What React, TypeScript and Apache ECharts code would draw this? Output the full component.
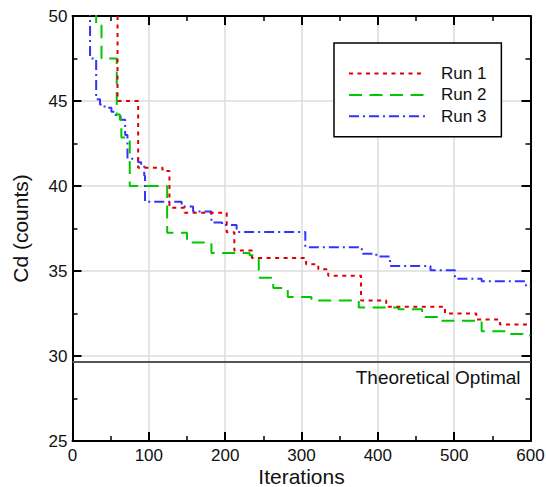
import React, { useEffect, useRef } from "react";
import * as echarts from "echarts";

const xTicks = [0, 100, 200, 300, 400, 500, 600];
const yTicks = [25, 30, 35, 40, 45, 50];

const seriesNames = ["Run 1", "Run 2", "Run 3"];

const run1X = [59, 59, 86, 118, 127, 147, 202, 212, 235, 306, 322, 335, 378, 411, 488, 529, 560, 600];
const run1Y = [60, 45.0, 41.08, 40.88, 38.72, 38.42, 37.28, 36.2, 35.77, 35.4, 35.1, 34.72, 33.27, 32.9, 32.5, 32.15, 31.85, 31.85];

const run2X = [31, 31, 38, 58, 62, 64, 75, 124, 150, 182, 232, 244, 263, 282, 313, 375, 427, 458, 481, 536, 572, 590, 600];
const run2Y = [60, 49.45, 47.5, 44.2, 43.9, 42.85, 40.0, 37.25, 36.68, 36.06, 35.92, 34.6, 34.0, 33.47, 33.27, 32.85, 32.75, 32.3, 32.08, 31.45, 31.3, 31.2, 31.2];

const run3X = [23, 23, 31, 36, 42, 51, 56, 63, 69, 72, 86, 90, 94, 95, 143, 158, 182, 196, 215, 305, 379, 398, 416, 469, 501, 536, 594, 600];
const run3Y = [60, 47.5, 45.1, 44.8, 44.6, 44.37, 44.17, 43.9, 43.0, 41.6, 41.4, 41.24, 40.6, 39.07, 38.8, 38.5, 37.85, 37.7, 37.3, 36.4, 36.02, 35.85, 35.3, 35.04, 34.55, 34.4, 34.1, 34.1];

const optimalValue = 29.65;
const optimalLabel = "Theoretical Optimal";

const FONT = "'Liberation Sans', Arial, Helvetica, sans-serif";

function pairs(xs: number[], ys: number[]) {
  return xs.map((x, i) => [x, ys[i]]);
}

export default function App() {
  const ref = useRef<HTMLDivElement>(null);
  useEffect(() => {
    if (!ref.current) return;
    const chart = echarts.init(ref.current, undefined, { renderer: "svg" });
    const axisCommon = {
      axisLine: { show: true, onZero: false, lineStyle: { color: "#000", width: 2 } },
      axisTick: { show: true, inside: true, length: 9, lineStyle: { color: "#000", width: 2 } },
      minorTick: { show: true, splitNumber: 2, length: 5, lineStyle: { color: "#000", width: 1.5 } },
    };
    chart.setOption({
      animation: false,
      backgroundColor: "#fff",
      textStyle: { fontFamily: FONT },
      grid: { left: 72.5, right: 15.5, top: 16, bottom: 46, containLabel: false, outerBoundsMode: "none" },
      legend: {
        data: seriesNames,
        orient: "vertical",
        left: 334,
        top: 43,
        padding: [22, 15, 12, 14],
        itemWidth: 76,
        itemHeight: 14,
        itemGap: 4.4,
        borderColor: "#000",
        borderWidth: 1.5,
        backgroundColor: "#fff",
        itemStyle: { opacity: 0 },
        textStyle: { fontSize: 17, color: "#111", fontFamily: FONT, padding: [0, 0, 0, 11] },
      },
      xAxis: [
        {
          type: "value",
          min: xTicks[0],
          max: xTicks[xTicks.length - 1],
          interval: 100,
          position: "bottom",
          ...axisCommon,
          axisLabel: { fontSize: 17, color: "#111", margin: 6, fontFamily: FONT },
          splitLine: { show: true, lineStyle: { color: "#dcdcdc", width: 1.5 } },
          name: "Iterations",
          nameLocation: "middle",
          nameMoveOverlap: false,
          nameGap: 25,
          nameTextStyle: { fontSize: 21, lineHeight: 21, color: "#111", fontFamily: FONT },
        },
        {
          type: "value",
          min: xTicks[0],
          max: xTicks[xTicks.length - 1],
          interval: 100,
          position: "top",
          ...axisCommon,
          axisLabel: { show: false },
          splitLine: { show: false },
        },
      ],
      yAxis: [
        {
          type: "value",
          min: yTicks[0],
          max: yTicks[yTicks.length - 1],
          interval: 5,
          position: "left",
          ...axisCommon,
          axisLabel: { fontSize: 17, color: "#111", margin: 5, fontFamily: FONT },
          splitLine: { show: true, lineStyle: { color: "#dcdcdc", width: 1.5 } },
          name: "Cd (counts)",
          nameLocation: "middle",
          nameMoveOverlap: false,
          nameGap: 42,
          nameTextStyle: { fontSize: 21, color: "#111", fontFamily: FONT },
        },
        {
          type: "value",
          min: yTicks[0],
          max: yTicks[yTicks.length - 1],
          interval: 5,
          position: "right",
          ...axisCommon,
          axisLabel: { show: false },
          splitLine: { show: false },
        },
      ],
      series: [
        {
          name: seriesNames[0],
          type: "line",
          step: "end",
          symbol: "none",
          clip: true,
          data: pairs(run1X, run1Y),
          itemStyle: { color: "#dd0000" },
          lineStyle: { color: "#dd0000", width: 2, type: [4, 4.5] },
          z: 4,
          markLine: {
            silent: true,
            symbol: ["none", "none"],
            animation: false,
            lineStyle: { color: "#555", width: 2, type: "solid" },
            label: {
              show: true,
              position: "insideEndBottom",
              formatter: optimalLabel,
              fontSize: 19,
              color: "#111",
              fontFamily: FONT,
              distance: [10, 6],
            },
            data: [{ yAxis: optimalValue }],
          },
        },
        {
          name: seriesNames[1],
          type: "line",
          step: "end",
          symbol: "none",
          clip: true,
          data: pairs(run2X, run2Y),
          itemStyle: { color: "#00c800" },
          lineStyle: { color: "#00c800", width: 2, type: [13, 7.5] },
          z: 3,
        },
        {
          name: seriesNames[2],
          type: "line",
          step: "end",
          symbol: "none",
          clip: true,
          data: pairs(run3X, run3Y),
          itemStyle: { color: "#3333ff" },
          lineStyle: { color: "#3333ff", width: 2, type: [10, 4, 2, 4] },
          z: 2,
        },
      ],
    });
    return () => chart.dispose();
  }, []);
  return (
    <div
      ref={ref}
      style={{ position: "absolute", left: 0, top: 0, width: 546, height: 487 }}
    />
  );
}
